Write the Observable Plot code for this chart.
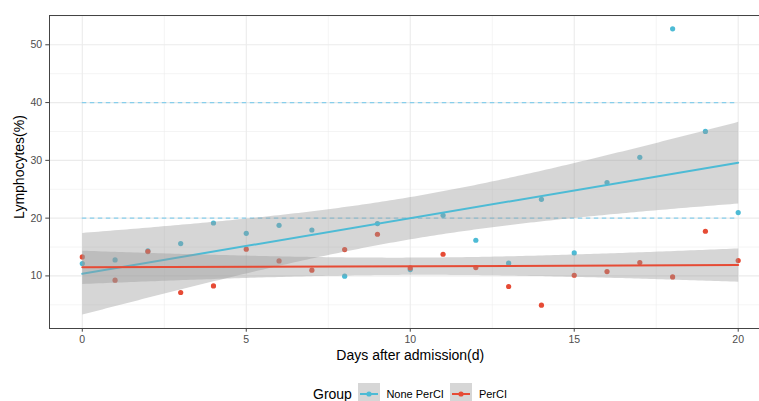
<!DOCTYPE html>
<html><head><meta charset="utf-8">
<script src="https://cdn.jsdelivr.net/npm/d3@7"></script>
<script src="https://cdn.jsdelivr.net/npm/@observablehq/plot@0.6"></script>
<style>
body{margin:0;background:#fff;font-family:"Liberation Sans",Arial,Helvetica,sans-serif;}
#wrap{position:relative;width:759px;height:401px;overflow:hidden;background:#fff;}
#legend{position:absolute;left:313px;top:383px;height:22px;display:flex;align-items:center;font-size:11px;color:#000;white-space:nowrap;}
#legend .title{font-size:14px;margin-right:6px;}
#legend .lab{margin-left:6.5px;margin-right:6.5px;}
#legend svg{display:block;}
</style></head><body>
<div id="wrap"><div id="chart"></div><div id="legend"></div></div>
<script>
const days = [0,1,2,3,4,5,6,7,8,9,10,11,12,13,14,15,16,17,18,19,20];
const groups = ["None PerCI", "PerCI"];
const colors = ["#4DBBD5", "#E64B35"];
const noneValues = [12.14,12.77,14.32,15.6,19.16,17.38,18.76,17.95,9.95,19.06,11.1,20.49,16.17,12.2,23.26,13.98,26.15,30.52,52.77,35.01,20.96];
const perValues  = [13.28,9.26,14.22,7.13,8.27,14.62,12.59,10.99,14.56,17.21,11.38,13.75,11.45,8.17,4.94,10.12,10.76,12.32,9.83,17.73,12.66];
const xTicks = [0,5,10,15,20];
const yTicks = [10,20,30,40,50];
const xMinor = [2.5,7.5,12.5,17.5];
const yMinor = [5,15,25,35,45,55];
const refLines = [20,40];
const xLabel = "Days after admission(d)";
const yLabel = "Lymphocytes(%)";
const legendTitle = "Group";

const data = [
  ...days.map((d,i)=>({day:d, value:noneValues[i], group:groups[0]})),
  ...days.map((d,i)=>({day:d, value:perValues[i], group:groups[1]}))
];

const font = "Liberation Sans, Arial, Helvetica, sans-serif";
const plot = Plot.plot({
  width: 759, height: 380,
  marginLeft: 49, marginRight: -11.5, marginTop: 15, marginBottom: 52,
  x: {domain: [-1, 21]},
  y: {domain: [0.9, 55.07]},
  color: {domain: groups, range: colors},
  style: {fontFamily: font, background: "#fff", overflow: "hidden"},
  marks: [
    Plot.ruleX(xMinor, {stroke: "#EBEBEB", strokeWidth: 0.55}),
    Plot.ruleY(yMinor, {stroke: "#EBEBEB", strokeWidth: 0.55}),
    Plot.ruleX(xTicks, {stroke: "#EBEBEB", strokeWidth: 1.1}),
    Plot.ruleY(yTicks, {stroke: "#EBEBEB", strokeWidth: 1.1}),
    Plot.ruleY(refLines, {x1: 0, x2: 20, stroke: "#87CEEB", strokeWidth: 1.1, strokeDasharray: "4.5,3.5"}),
    Plot.dot(data, {x: "day", y: "value", fill: "group", r: 2.6}),
    Plot.linearRegressionY(data, {x: "day", y: "value", stroke: "group", z: "group", fill: "#999999", fillOpacity: 0.4, strokeWidth: 2, ci: 0.95}),
    Plot.frame({stroke: "#444444", strokeWidth: 1}),
    Plot.axisX(xTicks, {tickSize: 3.7, tickPadding: 3.5, fontSize: 10.5, fill: "#4D4D4D", stroke: "#444444", label: null}),
    Plot.axisY(yTicks, {tickSize: 3.7, tickPadding: 3.6, fontSize: 10.5, fill: "#4D4D4D", stroke: "#444444", label: null}),
    Plot.text([xLabel], {text: d => d, frameAnchor: "bottom", dy: 27, fontSize: 14, fill: "#000", textAnchor: "middle", lineAnchor: "middle"}),
    Plot.text([yLabel], {text: d => d, frameAnchor: "left", dx: -30, dy: -5, rotate: -90, fontSize: 14, fill: "#000", textAnchor: "middle", lineAnchor: "middle"})
  ]
});
document.getElementById("chart").appendChild(plot);

const legend = d3.select("#legend");
legend.append("span").attr("class", "title").text(legendTitle);
groups.forEach((g, i) => {
  const s = legend.append("svg").attr("width", 22).attr("height", 22);
  s.append("rect").attr("width", 22).attr("height", 22).attr("fill", "#D6D6D6");
  s.append("line").attr("x1", 2).attr("x2", 20).attr("y1", 11).attr("y2", 11).attr("stroke", colors[i]).attr("stroke-width", 2);
  s.append("circle").attr("cx", 11).attr("cy", 11).attr("r", 2.6).attr("fill", colors[i]);
  legend.append("span").attr("class", "lab").text(g);
});
</script>
</body></html>
